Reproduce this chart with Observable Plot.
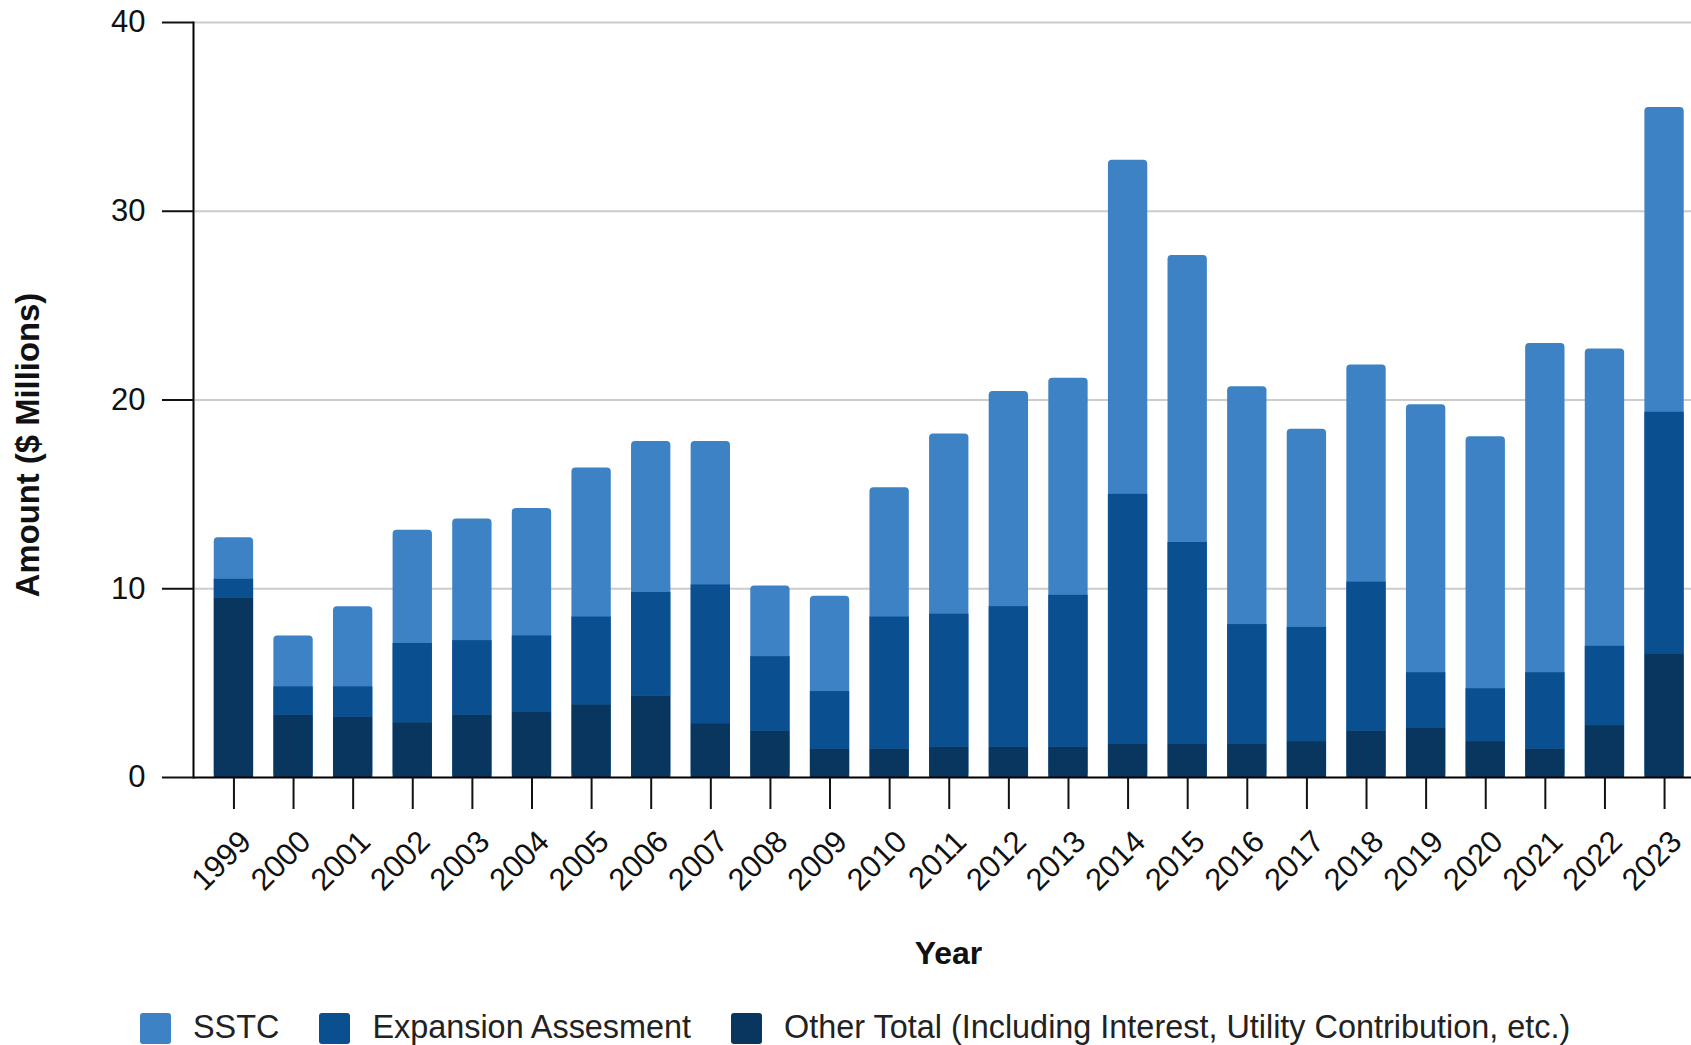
<!DOCTYPE html>
<html>
<head>
<meta charset="utf-8">
<script src="https://cdn.jsdelivr.net/npm/d3@7"></script>
<script src="https://cdn.jsdelivr.net/npm/@observablehq/plot@0.6"></script>
<style>
  html, body { margin: 0; padding: 0; background: #fff; overflow: hidden; }
  #wrap { position: relative; width: 1691px; height: 1045px; }
  #legend { position: absolute; left: 140px; top: 1013px; display: flex; align-items: flex-start;
    font-family: "Liberation Sans", Arial, sans-serif; font-size: 32.4px; color: #222; white-space: nowrap; }
  .item { display: flex; align-items: flex-start; margin-right: 40px; }
  .sw { width: 31px; height: 31px; border-radius: 3px; margin-right: 22px; }
  .lab { line-height: 32px; margin-top: -2px; }
</style>
</head>
<body>
<div id="wrap"><div id="chart"></div><div id="legend"></div></div>
<script>
const years = ["1999","2000","2001","2002","2003","2004","2005","2006","2007","2008","2009","2010","2011","2012","2013","2014","2015","2016","2017","2018","2019","2020","2021","2022","2023"];
const other = [9.5,3.3,3.2,2.9,3.3,3.45,3.85,4.3,2.85,2.45,1.5,1.5,1.6,1.6,1.6,1.75,1.75,1.75,1.9,2.45,2.6,1.9,1.5,2.75,6.55];
const expansion = [1.0,1.5,1.6,4.2,3.95,4.05,4.65,5.5,7.35,3.95,3.05,7.0,7.05,7.45,8.05,13.25,10.7,6.35,6.05,7.9,2.95,2.8,4.05,4.2,12.8];
const sstc = [2.2,2.7,4.25,6.0,6.45,6.75,7.9,8.0,7.6,3.75,5.05,6.85,9.55,11.4,11.5,17.7,15.2,12.6,10.5,11.5,14.2,13.35,17.45,15.75,16.15];
const seriesNames = ["SSTC", "Expansion Assesment", "Other Total (Including Interest, Utility Contribution, etc.)"];
const seriesColors = ["#3d82c4", "#0a4f8f", "#08365f"];
const yTicks = [0, 10, 20, 30, 40];
const gridTicks = [10, 20, 30, 40];

const rows = years.map((year, i) => ({
  year,
  other: other[i],
  expTop: other[i] + expansion[i],
  total: other[i] + expansion[i] + sstc[i]
}));

const chart = Plot.plot({
  width: 1691,
  height: 1000,
  marginLeft: 193,
  marginRight: 0,
  marginTop: 22,
  marginBottom: 223,
  style: {fontFamily: "'Liberation Sans', Arial, sans-serif", fontSize: "31px", color: "#111", background: "#fff"},
  x: {type: "band", domain: years, range: [193.5, 1704], padding: 0.34, round: false},
  y: {domain: [0, 40]},
  marks: [
    Plot.gridY(gridTicks, {stroke: "#cccccc", strokeOpacity: 1, strokeWidth: 2}),
    Plot.barY(rows, {x: "year", y1: 0, y2: "total", fill: seriesColors[0], rx: 4}),
    Plot.barY(rows, {x: "year", y1: "other", y2: "expTop", fill: seriesColors[1]}),
    Plot.barY(rows, {x: "year", y1: 0, y2: "other", fill: seriesColors[2]}),
    Plot.ruleY([0], {stroke: "#000", strokeWidth: 2}),
    Plot.frame({anchor: "left", stroke: "#000", strokeWidth: 2}),
    Plot.axisY({ticks: yTicks, tickSize: 31, tickPadding: 17, tickFormat: d => String(d), label: null, strokeWidth: 2, fontSize: 31}),
    Plot.axisX({tickSize: 32, tickFormat: () => "", label: null, strokeWidth: 2}),
    Plot.text(years, {x: d => d, frameAnchor: "bottom", dx: 19, dy: 66, rotate: -45, textAnchor: "end", lineAnchor: "bottom", fontSize: 31}),
    Plot.text(["Year"], {frameAnchor: "bottom", dx: 6, dy: 186, textAnchor: "middle", lineAnchor: "bottom", fontWeight: "bold", fontSize: 32}),
    Plot.text(["Amount ($ Millions)"], {frameAnchor: "left", dx: -165, dy: 45, rotate: -90, textAnchor: "middle", fontWeight: "bold", fontSize: 32.8})
  ]
});
document.getElementById("chart").appendChild(chart);

const legend = document.getElementById("legend");
seriesNames.forEach((name, i) => {
  const item = document.createElement("div");
  item.className = "item";
  const sw = document.createElement("div");
  sw.className = "sw";
  sw.style.background = seriesColors[i];
  const lab = document.createElement("div");
  lab.className = "lab";
  lab.textContent = name;
  item.appendChild(sw);
  item.appendChild(lab);
  legend.appendChild(item);
});
</script>
</body>
</html>
